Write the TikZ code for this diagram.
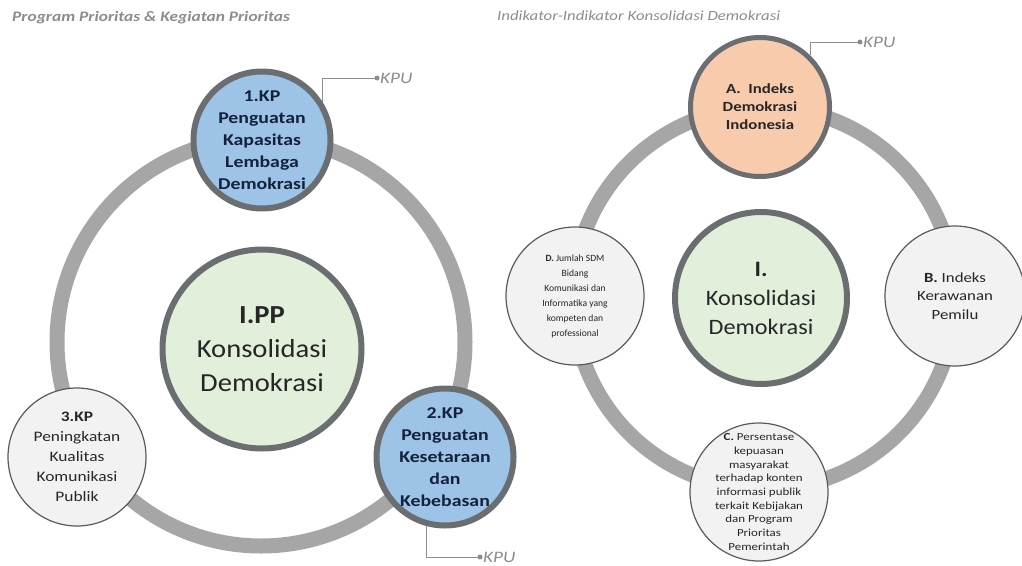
\documentclass[tikz,border=0pt]{standalone}
\usepackage{fontspec}
\setmainfont{Carlito}
\newfontfamily\widefont[FakeStretch=1.2]{Carlito}
\newfontfamily\widishfont[FakeStretch=1.1]{Carlito}
\usetikzlibrary{positioning}

\definecolor{ringgray}{HTML}{A6A6A6}
\definecolor{edgegray}{HTML}{6B6E70}
\definecolor{thingray}{HTML}{5A5A5A}
\definecolor{kpblue}{HTML}{9DC3E6}
\definecolor{coregreen}{HTML}{E2EFDA}
\definecolor{idxorange}{HTML}{F8CBAD}
\definecolor{paper}{HTML}{F2F2F2}
\definecolor{navytext}{HTML}{14213D}
\definecolor{darktext}{HTML}{262626}
\definecolor{notegray}{HTML}{8C8C8C}

\begin{document}
\begin{tikzpicture}[x=1pt, y=-1pt,
  ring/.style={draw=ringgray, line width=15pt},
  every bubble/.style={circle, align=center, inner sep=-6pt},
  thick bubble/.style={every bubble, draw=edgegray, line width=6pt},
  thin bubble/.style={every bubble, draw=thingray, line width=1.2pt, fill=paper, text=darktext},
  kp/.style={thick bubble, fill=kpblue, text=navytext, minimum size=137,
    font=\widefont\fontsize{16.5}{22}\selectfont\bfseries},
  core/.style={thick bubble, fill=coregreen, text=darktext},
  callout/.style={draw=notegray, line width=0.9pt},
  kpu/.style={right, inner sep=3pt, text=notegray, font=\widefont\fontsize{16}{16}\selectfont\itshape},
  heading/.style={right, inner sep=0pt, text=notegray, font=\widefont\fontsize{14}{16}\selectfont\itshape},
  bold heading/.style={heading, font=\widefont\fontsize{14.5}{16}\selectfont\bfseries\itshape}]

\useasboundingbox (0,0) rectangle (1022,565);

%% titles
\node [bold heading] (title-pp) at (12,18) {Program Prioritas \& Kegiatan Prioritas};
\node [heading] (title-ind) at (497,16) {Indikator-Indikator Konsolidasi Demokrasi};

%% rings
\draw [ring] (261,342) circle (204);
\draw [ring] (764,298) circle (191);

%% left: program prioritas
\node [core, minimum size=199, font=\widishfont\fontsize{26}{34}\selectfont] (pp) at (262,349)
  {\textbf{I.PP}\\Konsolidasi\\Demokrasi};
\node [kp] (kp-1) at (262,140) {1.KP\\Penguatan\\Kapasitas\\Lembaga\\Demokrasi};
\node [kp] (kp-2) at (445,457) {2.KP\\Penguatan\\Kesetaraan\\dan\\Kebebasan};
\node [thin bubble, minimum size=138, font=\widefont\fontsize{14.5}{20}\selectfont] (kp-3) at (77,457)
  {\textbf{3.KP}\\Peningkatan\\Kualitas\\Komunikasi\\Publik};

%% right: indikator
\node [core, minimum size=172, font=\widishfont\fontsize{22}{29}\selectfont] (ind) at (761,298)
  {\textbf{I.}\\Konsolidasi\\Demokrasi};
\node [thick bubble, line width=5pt, fill=idxorange, text=darktext, minimum size=139,
  font=\widefont\fontsize{14}{18}\selectfont\bfseries] (ind-a) at (760,107)
  {A.~~Indeks\\Demokrasi\\Indonesia};
\node [thin bubble, minimum size=140, font=\widefont\fontsize{14}{18.5}\selectfont] (ind-b) at (955,296)
  {\textbf{B.} Indeks\\Kerawanan\\Pemilu};
\node [thin bubble, minimum size=138, font=\widefont\fontsize{10.8}{13.7}\selectfont] (ind-c) at (759,492)
  {\textbf{C.} Persentase\\kepuasan\\masyarakat\\terhadap konten\\informasi publik\\terkait Kebijakan\\dan Program\\Prioritas\\Pemerintah};
\node [thin bubble, minimum size=138, font=\fontsize{9.6}{15}\selectfont] (ind-d) at (575,296)
  {\textbf{D.} Jumlah SDM\\Bidang\\Komunikasi dan\\Informatika yang\\kompeten dan\\professional};

%% KPU callouts
\foreach \n/\a/\x/\y in {kp-1/32/377/78, kp-2/255/480/557, ind-a/46/860/42} {
  \coordinate (kpu-\n) at (\x,\y);
  \draw [callout] (\n.\a) |- (kpu-\n);
  \fill [notegray] (kpu-\n) circle (2.5);
  \node [kpu] (kpu-label-\n) at (kpu-\n) {KPU};
}

\end{tikzpicture}
\end{document}
